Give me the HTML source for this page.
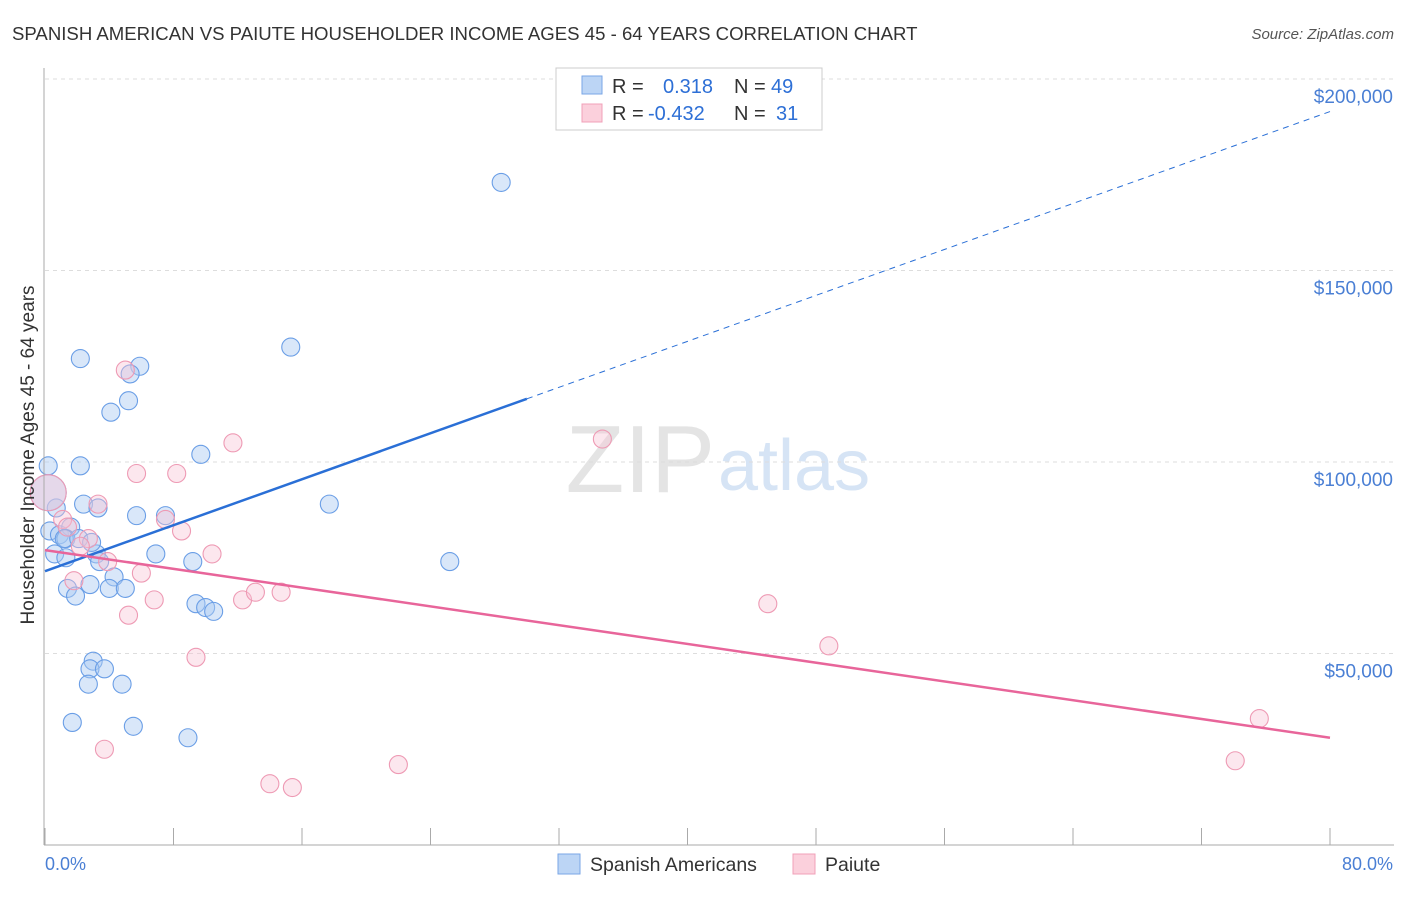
<!DOCTYPE html>
<html><head><meta charset="utf-8"><style>
body{margin:0;background:#fff;font-family:"Liberation Sans",sans-serif}
svg text{font-family:"Liberation Sans",sans-serif}
</style></head><body>
<svg id="c" width="1406" height="892">
<text x="12" y="40" font-size="18.6" fill="#333">SPANISH AMERICAN VS PAIUTE HOUSEHOLDER INCOME AGES 45 - 64 YEARS CORRELATION CHART</text>
<text x="1394" y="39" font-size="15" fill="#555" text-anchor="end" font-style="italic">Source: ZipAtlas.com</text>
<text x="715" y="492" font-size="96" fill="#e4e4e4" font-family="Liberation Serif" text-anchor="end">ZIP</text>
<text x="718" y="490" font-size="72" fill="#d6e4f5">atlas</text>
<g id="grid"></g><g id="pts"></g><g id="lines"></g>
<line x1="44" y1="68" x2="44" y2="845" stroke="#aaa"/>
<line x1="44" y1="845" x2="1394" y2="845" stroke="#aaa"/>
<text x="34" y="455" font-size="19" fill="#333" text-anchor="middle" transform="rotate(-90 34 455)">Householder Income Ages 45 - 64 years</text>
<text x="45" y="870" font-size="18" fill="#4a7fd4">0.0%</text>
<text x="1393" y="870" font-size="18" fill="#4a7fd4" text-anchor="end">80.0%</text>
<g>
<rect x="556" y="68" width="266" height="62" fill="#fff" stroke="#ccc"/>
<rect x="582" y="76" width="20" height="18" fill="#bcd5f5" stroke="#7aa6e6"/>
<rect x="582" y="104" width="20" height="18" fill="#fbd0dc" stroke="#f0a0b8"/>
<text x="612" y="93" font-size="20" fill="#333">R =<tspan x="663" fill="#2d6fd6">0.318</tspan><tspan x="734" fill="#333">N =</tspan><tspan x="771" fill="#2d6fd6">49</tspan></text>
<text x="612" y="120" font-size="20" fill="#333">R =<tspan x="648" fill="#2d6fd6">-0.432</tspan><tspan x="734" fill="#333">N =</tspan><tspan x="776" fill="#2d6fd6">31</tspan></text>
</g>
<g>
<rect x="558" y="854" width="22" height="20" fill="#bcd5f5" stroke="#7aa6e6"/>
<text x="590" y="871" font-size="19.5" fill="#333">Spanish Americans</text>
<rect x="793" y="854" width="22" height="20" fill="#fbd0dc" stroke="#f0a0b8"/>
<text x="825" y="871" font-size="19.5" fill="#333">Paiute</text>
</g>
</svg>
<script>
const yTicks=[50000,100000,150000,200000];
const yTickLabels=["$50,000","$100,000","$150,000","$200,000"];
const xTicks=[0,8,16,24,32,40,48,56,64,72,80];
const blueX=[28.4,15.3,2.2,5.9,5.3,5.2,4.1,0.2,2.2,9.7,17.7,2.4,3.3,0.7,5.7,7.5,0.3,0.9,1.6,1.3,0.6,1.3,3.2,3.4,6.9,9.2,25.2,4.3,1.4,1.9,2.8,4.0,5.0,9.4,10.0,10.5,3.0,2.8,3.7,2.7,4.8,1.7,5.5,8.9,0.2,1.2,2.1,2.9];
const blueY=[173,130,127,125,123,116,113,99,99,102,89,89,88,88,86,86,82,81,83,80,76,75,76,74,76,74,74,70,67,65,68,67,67,63,62,61,48,46,46,42,42,32,31,28,92,80,80,79];
const pinkX=[5.0,11.7,34.7,5.7,8.2,3.3,7.5,8.5,2.7,2.2,1.1,3.9,6.0,10.4,1.8,6.8,5.2,12.3,13.1,14.7,45.0,48.8,9.4,75.6,3.7,22.0,14.0,15.4,74.1,0.2,1.4];
const pinkY=[124,105,106,97,97,89,85,82,80,78,85,74,71,76,69,64,60,64,66,66,63,52,49,33,25,21,16,15,22,92,83];
const blueFit=[[0,71500],[30,116500],[80,191500]];
const pinkFit=[[0,77000],[80,28000]];
const X=v=>45+v/80*1285, Y=v=>845-v/50000*191.5;
const NS="http://www.w3.org/2000/svg";
const mk=(p,t,a)=>{const e=document.createElementNS(NS,t);for(const k in a)e.setAttribute(k,a[k]);p.appendChild(e);return e;};
const grid=document.getElementById('grid');
yTicks.forEach((t,i)=>{
 const l=mk(grid,'line',{x1:45,x2:1394,y1:Y(t),y2:Y(t),stroke:'#ddd','stroke-dasharray':'4,4'});
 
 
 const tx=mk(grid,'text',{x:1393,y:Y(t)+24,'font-size':19,fill:'#4a7fd4','text-anchor':'end'});
 tx.textContent=yTickLabels[i];
 
 
});
mk(grid,'line',{x1:45,x2:1394,y1:79,y2:79,stroke:'#ddd','stroke-dasharray':'4,4'});
xTicks.forEach(t=>{
 const l=mk(grid,'line',{x1:X(t),x2:X(t),y1:828,y2:845,stroke:'#aaa'});
 
 
});
const pts=document.getElementById('pts');
blueX.forEach((x,i)=>{
 const c=mk(pts,'circle',{cx:X(x),cy:Y(blueY[i]*1000),r:i==44?18:9,fill:'rgba(170,202,242,0.45)',stroke:'#6a9ee6','stroke-width':1.1});
 
 
});
pinkX.forEach((x,i)=>{
 const c=mk(pts,'circle',{cx:X(x),cy:Y(pinkY[i]*1000),r:i==29?18:9,fill:'rgba(248,195,212,0.4)',stroke:'#ee9ab4','stroke-width':1.1});
 
 
});
const ln=document.getElementById('lines');
let b=mk(ln,'line',{x1:X(blueFit[0][0]),y1:Y(blueFit[0][1]),x2:X(blueFit[1][0]),y2:Y(blueFit[1][1]),stroke:'#2a6fd6','stroke-width':2.5});


let bd=mk(ln,'line',{x1:X(blueFit[1][0]),y1:Y(blueFit[1][1]),x2:X(blueFit[2][0]),y2:Y(blueFit[2][1]),stroke:'#2a6fd6','stroke-width':1,'stroke-dasharray':'6,5'});


let p=mk(ln,'line',{x1:X(pinkFit[0][0]),y1:Y(pinkFit[0][1]),x2:X(pinkFit[1][0]),y2:Y(pinkFit[1][1]),stroke:'#e8659a','stroke-width':2.5});


</script>
</body></html>
